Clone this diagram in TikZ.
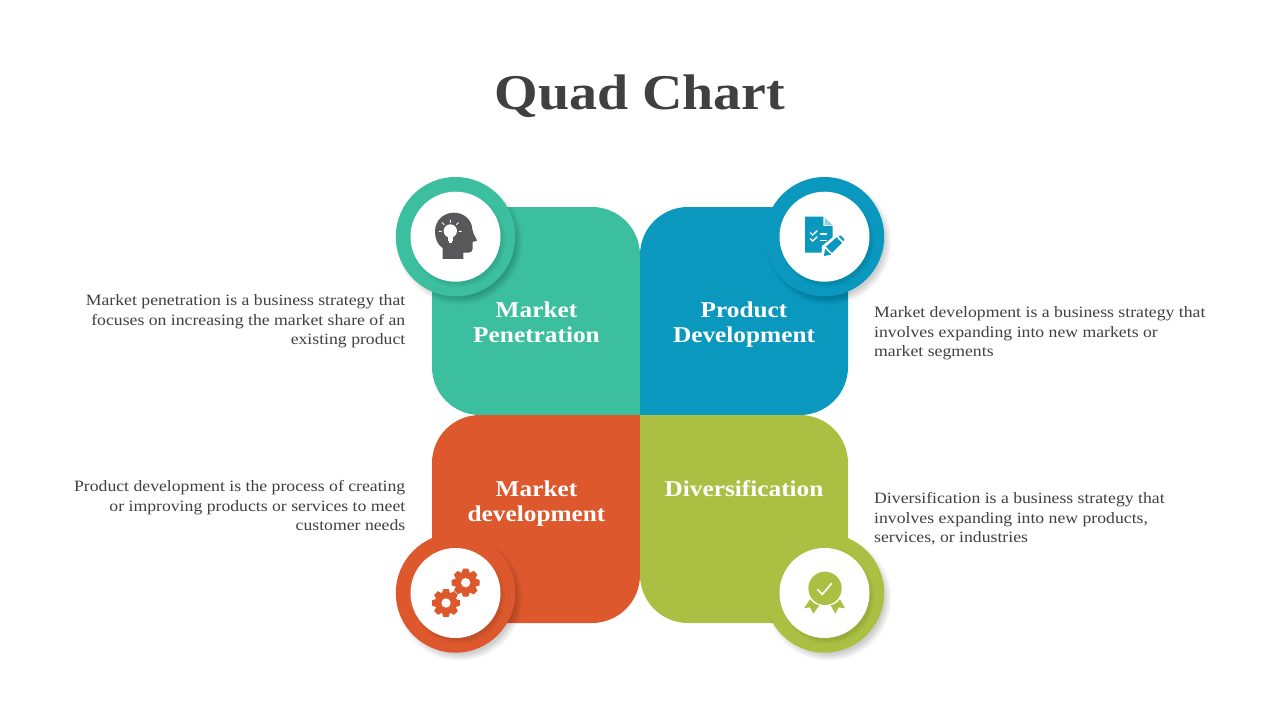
\documentclass[tikz,border=0pt]{standalone}
\usepackage{fontspec}
\setmainfont{Liberation Serif}
\newfontfamily\bodyfont[FakeStretch=1.12]{Liberation Serif}
\newfontfamily\headfont[FakeStretch=1.12]{Liberation Serif Bold}
\definecolor{cgreen}{HTML}{3CBF9F}
\definecolor{cblue}{HTML}{0A98BF}
\definecolor{corange}{HTML}{DD592D}
\definecolor{colive}{HTML}{ABC043}
\definecolor{cink}{HTML}{404040}
\definecolor{chead}{HTML}{58585A}
\tikzset{
  titletext/.style={font=\headfont\fontsize{50}{50}\selectfont,text=cink,inner sep=0pt,anchor=base},
  paneltext/.style={font=\headfont\fontsize{22.6}{25}\selectfont,text=white,inner sep=0pt,align=center,anchor=base},
  lefttext/.style={font=\bodyfont\fontsize{15.8}{19.5}\selectfont,text=cink,inner sep=0pt,align=right,anchor=base east},
  righttext/.style={font=\bodyfont\fontsize{15.8}{19.5}\selectfont,text=cink,inner sep=0pt,align=left,anchor=base west},
}
\newcommand{\badge}[3]{% x, y, colour
  \foreach \r in {63,62,61,60,59,58,57,56}{\fill[black,opacity=0.022] (#1+4,#2+5) circle[radius=\r];}
  \fill[#3] (#1,#2) circle[radius=59.7];
  \foreach \r in {47,46,45,44,43}{\fill[black,opacity=0.02] (#1+3,#2+4) circle[radius=\r];}
  \fill[white] (#1,#2) circle[radius=45];
}
\newcommand{\gearicon}[2]{%
  \fill[corange] (#1,#2) circle[radius=32];
  \foreach \a in {0,45,...,315}{\fill[corange,rotate around={\a:(#1,#2)}] (#1-13,#2-26) -- (#1-8,#2-42) -- (#1+8,#2-42) -- (#1+13,#2-26) -- cycle;}
  \fill[white] (#1,#2) circle[radius=14];
}
\begin{document}
\begin{tikzpicture}[x=1pt,y=-1pt]
\useasboundingbox (0,0) rectangle (1280,720);
\fill[white] (0,0) rectangle (1280,720);
% panels
\fill[cgreen] (640,415) -- (480,415) .. controls (453.5,415) and (432,393.5) .. (432,367) -- (432,207) -- (592,207) .. controls (618.5,207) and (640,228.5) .. (640,255) -- cycle;
\fill[cblue] (640,415) -- (640,255) .. controls (640,228.5) and (661.5,207) .. (688,207) -- (848,207) -- (848,367) .. controls (848,393.5) and (826.5,415) .. (800,415) -- cycle;
\fill[corange] (640,415) -- (480,415) .. controls (453.5,415) and (432,436.5) .. (432,463) -- (432,623) -- (592,623) .. controls (618.5,623) and (640,601.5) .. (640,575) -- cycle;
\fill[colive] (640,415) -- (800,415) .. controls (826.5,415) and (848,436.5) .. (848,463) -- (848,623) -- (688,623) .. controls (661.5,623) and (640,601.5) .. (640,575) -- cycle;
% badges
\badge{455.5}{236.7}{cgreen}
\badge{824.5}{236.7}{cblue}
\badge{455.5}{593}{corange}
\badge{824.5}{593}{colive}
% head icon
\begin{scope}[shift={(390,170)},x=0.3333pt,y=-0.3333pt]
\fill[chead] (158,267) -- (158,234) .. controls (142,224) and (135,205) .. (135,185) .. controls (135,150) and (162,128) .. (192,128) .. controls (222,128) and (246,150) .. (247,178) .. controls (249,192) and (258,202) .. (261,212) -- (248,216) -- (248,236) .. controls (248,244) and (242,248) .. (235,248) -- (220,248) -- (220,267) -- cycle;
\fill[white] (181,183) circle[radius=20];
\fill[white] (173,198) rectangle (189,212);
\fill[white] (177,212) rectangle (185,219);
\draw[white,line width=0.9pt] (181,150) -- (181,158) (156,158) -- (163,164) (206,158) -- (199,164) (147,184) -- (155,184) (207,184) -- (215,184);
\end{scope}
% document icon
\begin{scope}[shift={(760,170)},x=0.3333pt,y=-0.3333pt]
\fill[cblue] (135,140) -- (190,140) -- (190,168) -- (218,168) -- (218,202) -- (190,232) -- (186,248) -- (135,248) -- cycle;
\fill[cblue!45] (194,143) -- (218,165) -- (194,165) -- cycle;
\draw[white,line width=1.4pt] (151,188) -- (158,195) -- (172,182) (151,206) -- (158,213) -- (172,200);
\draw[white,line width=1.4pt] (180,192) -- (202,192) (180,211) -- (202,211);
\fill[white] (184,264) -- (186,228) -- (238,186) -- (264,212) -- (216,260) -- cycle;
\fill[cblue] (192,258) -- (195,236) -- (214,254) -- cycle;
\fill[cblue] (198,230) -- (230,202) -- (246,219) -- (216,249) -- cycle;
\fill[cblue] (235,198) -- (243,197) -- (253,208) -- (250,214) -- cycle;
\end{scope}
% gear icon
\begin{scope}[shift={(390,530)},x=0.3333pt,y=-0.3333pt]
\gearicon{227}{158}
\fill[white] (168,219) circle[radius=44];
\gearicon{168}{219}
\end{scope}
% medal icon
\begin{scope}[shift={(760,530)},x=0.3333pt,y=-0.3333pt]
\fill[colive] (195,175) circle[radius=50];
\draw[white,line width=1.6pt] (172,178) -- (187,193) -- (215,160);
\fill[colive] (150,208) -- (132,235) -- (150,232) -- (160,251) -- (178,226) .. controls (165,223) and (156,217) .. (150,208) -- cycle;
\fill[colive] (240,208) -- (255,235) -- (236,232) -- (226,251) -- (212,226) .. controls (225,223) and (234,217) .. (240,208) -- cycle;
\end{scope}
% text
\node[titletext] (title) at (640,109) {Quad Chart};
\node[paneltext] (tl) at (536.5,342) {Market\\Penetration};
\node[paneltext] (tr) at (744,342) {Product\\Development};
\node[paneltext] (bl) at (536.5,521) {Market\\development};
\node[paneltext] (br) at (744,496) {Diversification};
\node[lefttext] (dtl) at (405.5,344.5) {Market penetration is a business strategy that\\focuses on increasing the market share of an\\existing product};
\node[lefttext] (dbl) at (405.5,530.5) {Product development is the process of creating\\or improving products or services to meet\\customer needs};
\node[righttext] (dtr) at (874,356.5) {Market development is a business strategy that\\involves expanding into new markets or\\market segments};
\node[righttext] (dbr) at (874,542.5) {Diversification is a business strategy that\\involves expanding into new products,\\services, or industries};
\end{tikzpicture}
\end{document}
